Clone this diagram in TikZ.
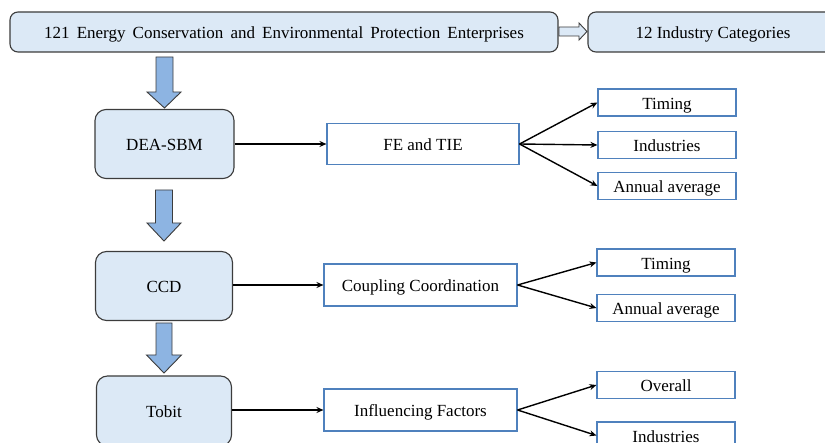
\documentclass[tikz,border=0pt]{standalone}
\usepackage{fontspec}
\setmainfont{Liberation Serif}
\usetikzlibrary{arrows.meta}
\definecolor{boxfill}{HTML}{DCE9F6}
\definecolor{boxline}{HTML}{3C3C3C}
\definecolor{bluearrow}{HTML}{8DB4E2}
\definecolor{blueline}{HTML}{4F81BD}
\begin{document}
\begin{tikzpicture}[x=1pt,y=-1pt,
  every node/.style={font=\fontsize{17}{20}\selectfont, inner sep=0pt, text height=14pt, text depth=0pt},
  mainbox/.style={draw=boxline, fill=boxfill, line width=1.1pt, rounded corners=11pt},
  resbox/.style={draw=blueline, fill=white, line width=1.1pt},
  conn/.style={-{Stealth[length=7pt,width=6pt]}, line width=1.4pt, black},
  blockarrow/.style={draw=boxline, fill=bluearrow, line width=0.9pt, line join=miter}]
\useasboundingbox (0,0) rectangle (825,443);
% top row
\node[mainbox, rounded corners=8pt, minimum width=548pt, minimum height=40pt] (top) at (284,32)
  {\spaceskip=0.42em plus 0.1em 121 Energy Conservation and Environmental Protection Enterprises};
\node[mainbox, rounded corners=8pt, minimum width=250pt, minimum height=40pt] (cat) at (713,32)
  {12 Industry Categories};
\draw[draw=boxline, fill=boxfill, line width=0.9pt]
  (559,27) -- (579,27) -- (579,23) -- (587,31.5) -- (579,40) -- (579,36) -- (559,36) -- cycle;
% method boxes
\node[mainbox, minimum width=139pt, minimum height=69pt] (dea) at (164.5,144) {DEA-SBM};
\node[mainbox, minimum width=137pt, minimum height=69pt] (ccd) at (164,286) {CCD};
\node[mainbox, minimum width=135pt, minimum height=70pt] (tob) at (164,411) {Tobit};
% block arrows
\draw[blockarrow] (156,57) -- (173,57) -- (173,92) -- (181,92) -- (164.5,108) -- (147,92) -- (156,92) -- cycle;
\draw[blockarrow] (155.5,190) -- (172.5,190) -- (172.5,223) -- (181,223) -- (164,241) -- (147,223) -- (155.5,223) -- cycle;
\draw[blockarrow] (156,323) -- (172,323) -- (172,355) -- (181.5,355) -- (164,373) -- (146.5,355) -- (156,355) -- cycle;
% result boxes
\node[resbox, minimum width=192pt, minimum height=41pt] (fe) at (423,144) {FE and TIE};
\node[resbox, minimum width=193pt, minimum height=42pt] (cc) at (420.5,285) {Coupling Coordination};
\node[resbox, minimum width=193pt, minimum height=42pt] (inf) at (420.5,410) {Influencing Factors};
% detail boxes
\node[resbox, minimum width=138pt, minimum height=27pt] (t1) at (667,102.5) {Timing};
\node[resbox, minimum width=138pt, minimum height=27pt] (i1) at (667,145) {Industries};
\node[resbox, minimum width=138pt, minimum height=27pt] (a1) at (667,186) {Annual average};
\node[resbox, minimum width=138pt, minimum height=27pt] (t2) at (666,262.5) {Timing};
\node[resbox, minimum width=138pt, minimum height=27pt] (a2) at (666,308) {Annual average};
\node[resbox, minimum width=138pt, minimum height=27pt] (o3) at (666,385) {Overall};
\node[resbox, minimum width=138pt, minimum height=27pt] (i3) at (666,435.5) {Industries};
% connectors
\draw[conn] (dea.east |- fe.west) -- (fe.west);
\draw[conn] (ccd.east |- cc.west) -- (cc.west);
\draw[conn] (tob.east |- inf.west) -- (inf.west);
\draw[conn] (fe.east) -- (t1.west);
\draw[conn] (fe.east) -- (i1.west);
\draw[conn] (fe.east) -- (a1.west);
\draw[conn] (cc.east) -- (t2.west);
\draw[conn] (cc.east) -- (a2.west);
\draw[conn] (inf.east) -- (o3.west);
\draw[conn] (inf.east) -- (i3.west);
\end{tikzpicture}
\end{document}
